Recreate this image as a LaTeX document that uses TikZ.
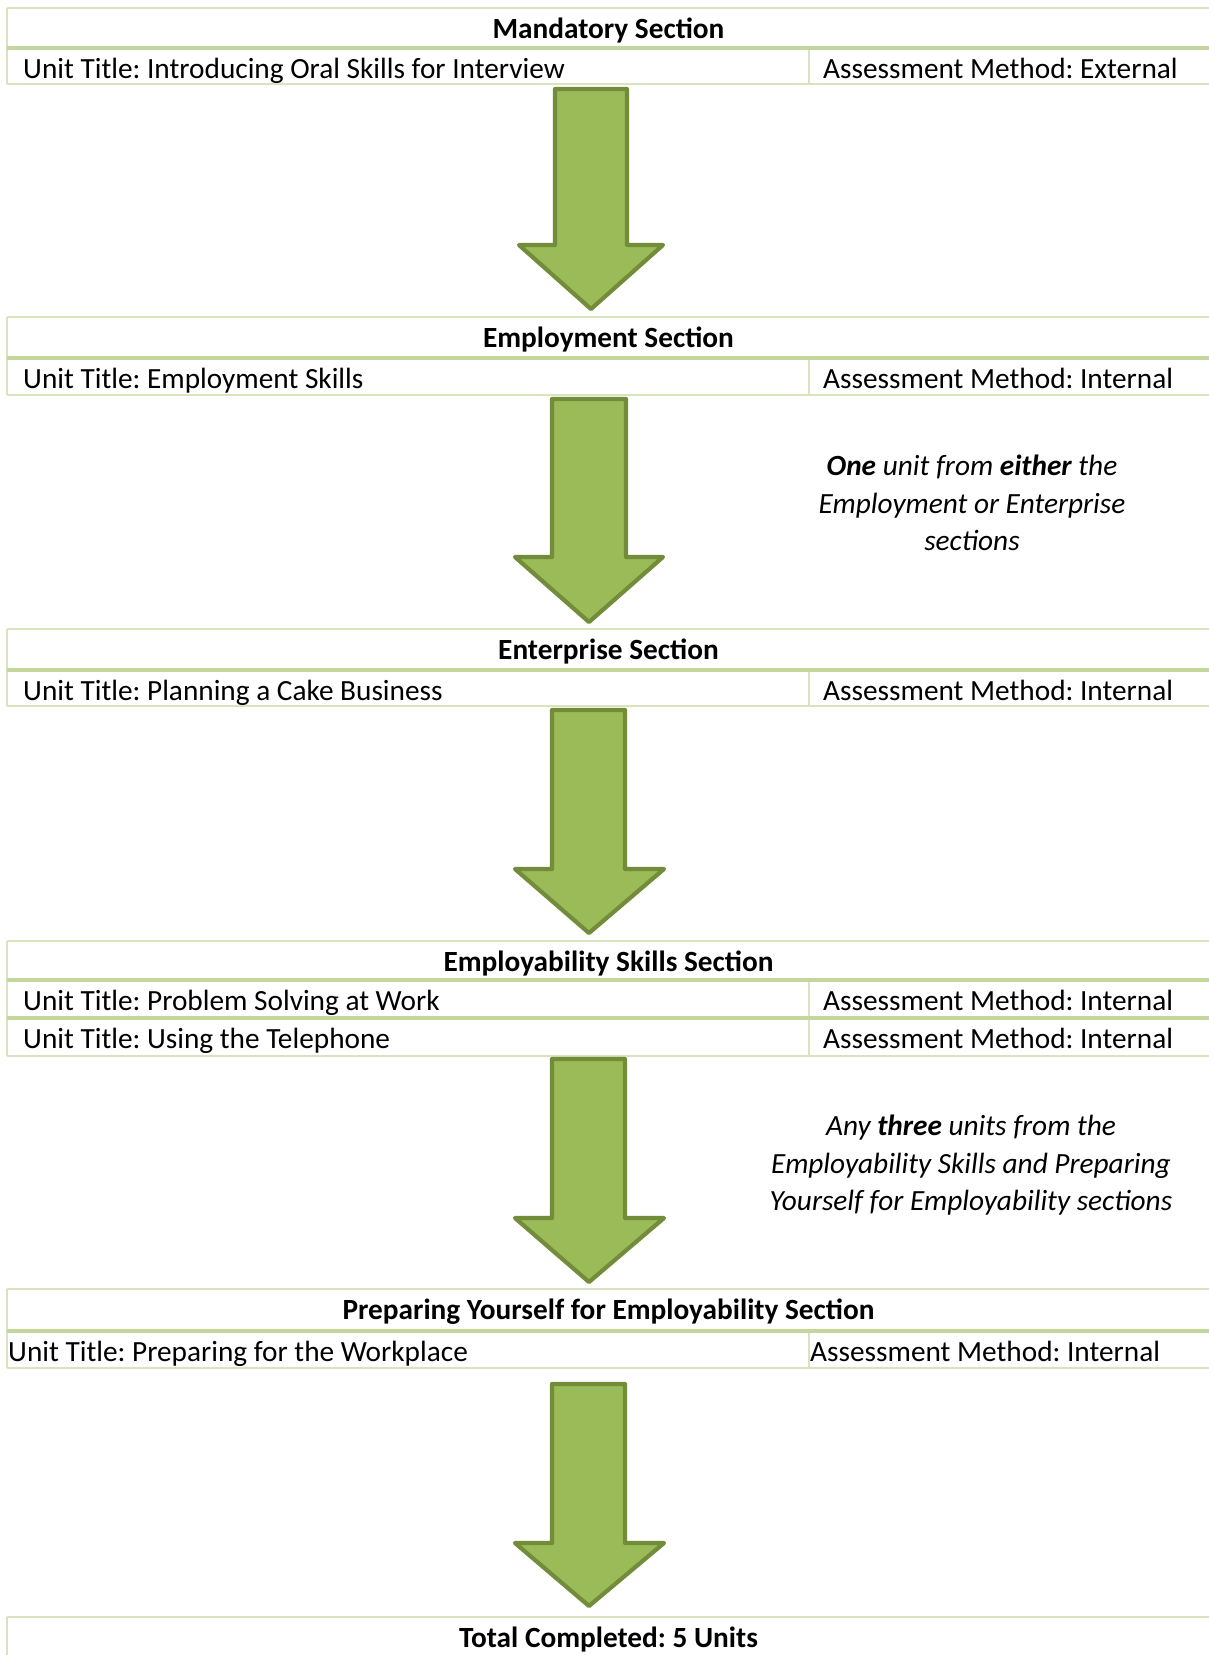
\documentclass[tikz,border=0pt]{standalone}
\usepackage{fontspec}
\setmainfont{Carlito}
\frenchspacing
\definecolor{thinline}{HTML}{D7E4BD}
\definecolor{thickline}{HTML}{C3D69B}
\definecolor{arrowfill}{HTML}{9BBB59}
\definecolor{arrowdraw}{HTML}{728C3A}
\tikzset{
  thin border/.style={draw=thinline, line width=1.4pt},
  thick border/.style={draw=thickline, line width=3.4pt},
  blockarrow/.style={fill=arrowfill, draw=arrowdraw, line width=4.2pt, line join=round},
  txt/.style={inner sep=0pt, font=\frenchspacing\fontsize{29.3}{36}\selectfont},
  cell/.style={txt, anchor=base west},
  head/.style={txt, anchor=base, font=\frenchspacing\fontsize{29.3}{36}\selectfont\bfseries},
  note/.style={txt, anchor=base, font=\frenchspacing\fontsize{29.3}{36}\selectfont\itshape},
}
\begin{document}
\begin{tikzpicture}[x=1pt,y=-1pt]
\useasboundingbox (0,0) rectangle (1209,1655);
\fill[white] (0,0) rectangle (1209,1655);

% ---------- Table 1: Mandatory ----------
\draw[thin border] (7,8) -- (1212,8);
\draw[thin border] (7,8) -- (7,84);
\draw[thin border] (7,84) -- (1212,84);
\draw[thin border] (809,48) -- (809,84);
\draw[thick border] (7,48) -- (1212,48);
\node[head] (h1) at (608.5,38) {Mandatory Section};
\node[cell] (u1) at (23,78) {Unit Title: Introducing Oral Skills for Interview};
\node[cell] (a1) at (823,78) {Assessment Method: External};

% ---------- Table 2: Employment ----------
\draw[thin border] (7,317) -- (1212,317);
\draw[thin border] (7,317) -- (7,395);
\draw[thin border] (7,395) -- (1212,395);
\draw[thin border] (809,358) -- (809,395);
\draw[thick border] (7,358) -- (1212,358);
\node[head] (h2) at (608.5,347) {Employment Section};
\node[cell] (u2) at (23,388) {Unit Title: Employment Skills};
\node[cell] (a2) at (823,388) {Assessment Method: Internal};

% ---------- Table 3: Enterprise ----------
\draw[thin border] (7,629) -- (1212,629);
\draw[thin border] (7,629) -- (7,706);
\draw[thin border] (7,706) -- (1212,706);
\draw[thin border] (809,670) -- (809,706);
\draw[thick border] (7,670) -- (1212,670);
\node[head] (h3) at (608.5,659) {Enterprise Section};
\node[cell] (u3) at (23,700) {Unit Title: Planning a Cake Business};
\node[cell] (a3) at (823,700) {Assessment Method: Internal};

% ---------- Table 4: Employability Skills ----------
\draw[thin border] (7,941) -- (1212,941);
\draw[thin border] (7,941) -- (7,1056);
\draw[thin border] (7,1056) -- (1212,1056);
\draw[thin border] (809,980) -- (809,1056);
\draw[thick border] (7,980) -- (1212,980);
\draw[thick border] (7,1018) -- (1212,1018);
\node[head] (h4) at (608.5,971) {Employability Skills Section};
\node[cell] (u4a) at (23,1010) {Unit Title: Problem Solving at Work};
\node[cell] (a4a) at (823,1010) {Assessment Method: Internal};
\node[cell] (u4b) at (23,1048) {Unit Title: Using the Telephone};
\node[cell] (a4b) at (823,1048) {Assessment Method: Internal};

% ---------- Table 5: Preparing Yourself ----------
\draw[thin border] (7,1289) -- (1212,1289);
\draw[thin border] (7,1289) -- (7,1368);
\draw[thin border] (7,1368) -- (1212,1368);
\draw[thin border] (809,1331) -- (809,1368);
\draw[thick border] (7,1331) -- (1212,1331);
\node[head] (h5) at (608.5,1319) {Preparing Yourself for Employability Section};
\node[cell] (u5) at (8,1361) {Unit Title: Preparing for the Workplace};
\node[cell] (a5) at (810,1361) {Assessment Method: Internal};

% ---------- Table 6: Total ----------
\draw[thin border] (7,1617) -- (1212,1617);
\draw[thin border] (7,1617) -- (7,1660);
\node[head] (h6) at (608.5,1647) {Total Completed: 5 Units};

% ---------- Arrows ----------
\draw[blockarrow] (555,89) -- (627,89) -- (627,245) -- (663,245) -- (591,309) -- (519,245) -- (555,245) -- cycle;
\draw[blockarrow] (552,399) -- (626,399) -- (626,557) -- (663,557) -- (589,622) -- (515,557) -- (552,557) -- cycle;
\draw[blockarrow] (552,710) -- (625,710) -- (625,869) -- (664,869) -- (589,933) -- (515,869) -- (552,869) -- cycle;
\draw[blockarrow] (552,1059) -- (625,1059) -- (625,1218) -- (664,1218) -- (589,1282) -- (515,1218) -- (552,1218) -- cycle;
\draw[blockarrow] (552,1384) -- (625,1384) -- (625,1543) -- (664,1543) -- (589,1606) -- (515,1543) -- (552,1543) -- cycle;

% ---------- Notes ----------
\node[note] (n1a) at (972,475) {\textbf{One} unit from \textbf{either} the};
\node[note] (n1b) at (972,513) {Employment or Enterprise};
\node[note] (n1c) at (972,550) {sections};
\node[note] (n2a) at (971,1135) {Any \textbf{three} units from the};
\node[note] (n2b) at (971,1173) {Employability Skills and Preparing};
\node[note] (n2c) at (971,1210) {Yourself for Employability sections};
\end{tikzpicture}
\end{document}
